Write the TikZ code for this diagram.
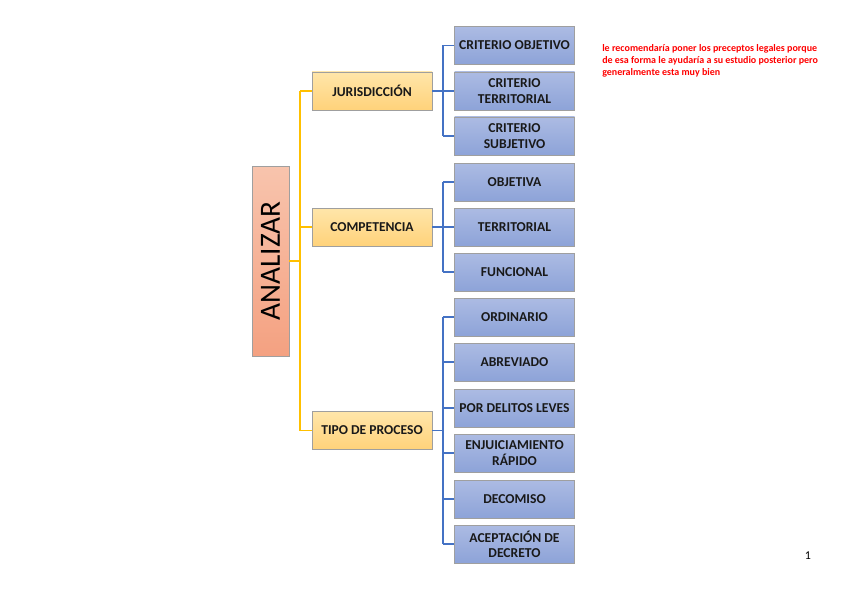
\documentclass[tikz,border=0pt]{standalone}
\usepackage{fontspec}
\setmainfont{Carlito}
\definecolor{rootA}{HTML}{F8C4AD}
\definecolor{rootB}{HTML}{F4A181}
\definecolor{midA}{HTML}{FFE6AA}
\definecolor{midB}{HTML}{FFD27A}
\definecolor{leafA}{HTML}{ACBBE3}
\definecolor{leafB}{HTML}{8DA3D8}
\definecolor{ylink}{HTML}{FFC000}
\definecolor{blink}{HTML}{4472C4}

\begin{document}
\begin{tikzpicture}[x=0.75pt,y=-0.75pt,
    box/.style={draw=gray!75,line width=0.6pt,minimum width=90pt,minimum height=28.5pt,
        inner sep=1pt,align=center,text=black!90,font=\bfseries\fontsize{10.2}{11.5}\selectfont},
    midbox/.style={box,top color=midA,bottom color=midB},
    leafbox/.style={box,top color=leafA,bottom color=leafB},
    ylinks/.style={draw=ylink,line width=1pt},
    blinks/.style={draw=blink,line width=1pt}]
        \useasboundingbox (0,0) rectangle (848,599);
        % raiz
        \node[draw=gray!75,line width=0.6pt,top color=rootA,bottom color=rootB,
            minimum width=27.75pt,minimum height=142.5pt] (root) at (270.5,261) {};
        \node[rotate=90,font=\fontsize{22}{24}\selectfont] (rootlbl) at (root) {ANALIZAR};
        % nivel medio
        \node[midbox] (jur) at (372,91) {JURISDICCIÓN};
        \node[midbox] (comp) at (372,227) {COMPETENCIA};
        \node[midbox] (tipo) at (372,430.5) {TIPO DE PROCESO};
        % hojas
        \node[leafbox] (crobj) at (514.5,45.5) {CRITERIO OBJETIVO};
        \node[leafbox] (crter) at (514.5,91) {CRITERIO\\TERRITORIAL};
        \node[leafbox] (crsub) at (514.5,136) {CRITERIO\\SUBJETIVO};
        \node[leafbox] (obj) at (514.5,182) {OBJETIVA};
        \node[leafbox] (ter) at (514.5,227) {TERRITORIAL};
        \node[leafbox] (fun) at (514.5,272) {FUNCIONAL};
        \node[leafbox] (ord) at (514.5,317) {ORDINARIO};
        \node[leafbox] (abr) at (514.5,362) {ABREVIADO};
        \node[leafbox] (lev) at (514.5,408) {POR DELITOS LEVES};
        \node[leafbox] (enj) at (514.5,453) {ENJUICIAMIENTO\\RÁPIDO};
        \node[leafbox] (dec) at (514.5,499) {DECOMISO};
        \node[leafbox] (ace) at (514.5,544) {ACEPTACIÓN DE\\DECRETO};
        % conectores amarillos
        \coordinate (ytrunk) at (300,261);
        \draw[ylinks] (root.east) -- (ytrunk);
        \draw[ylinks] (ytrunk |- jur.west) -- (ytrunk |- tipo.west);
        \foreach \m in {jur,comp,tipo}
            \draw[ylinks] (ytrunk |- \m.west) -- (\m.west);
        % conectores azules
        \coordinate (btrunk) at (443,0);
        \draw[blinks] (btrunk |- crobj.west) -- (btrunk |- crsub.west);
        \draw[blinks] (btrunk |- obj.west) -- (btrunk |- fun.west);
        \draw[blinks] (btrunk |- ord.west) -- (btrunk |- ace.west);
        \foreach \m in {jur,comp,tipo}
            \draw[blinks] (\m.east) -- (btrunk |- \m.east);
        \foreach \h in {crobj,crter,crsub,obj,ter,fun,ord,abr,lev,enj,dec,ace}
            \draw[blinks] (btrunk |- \h.west) -- (\h.west);
        % comentario
        \node[anchor=north west,align=left,text=red,inner sep=0pt,
            font=\bfseries\fontsize{7.5}{9}\selectfont] (nota) at (602,44)
            {le recomendaría poner los preceptos legales porque\\
             de esa forma le ayudaría a su estudio posterior pero\\
             generalmente esta muy bien};
        \node[font=\fontsize{9}{10}\selectfont] (pag) at (808,556) {1};
    \end{tikzpicture}
\end{document}
